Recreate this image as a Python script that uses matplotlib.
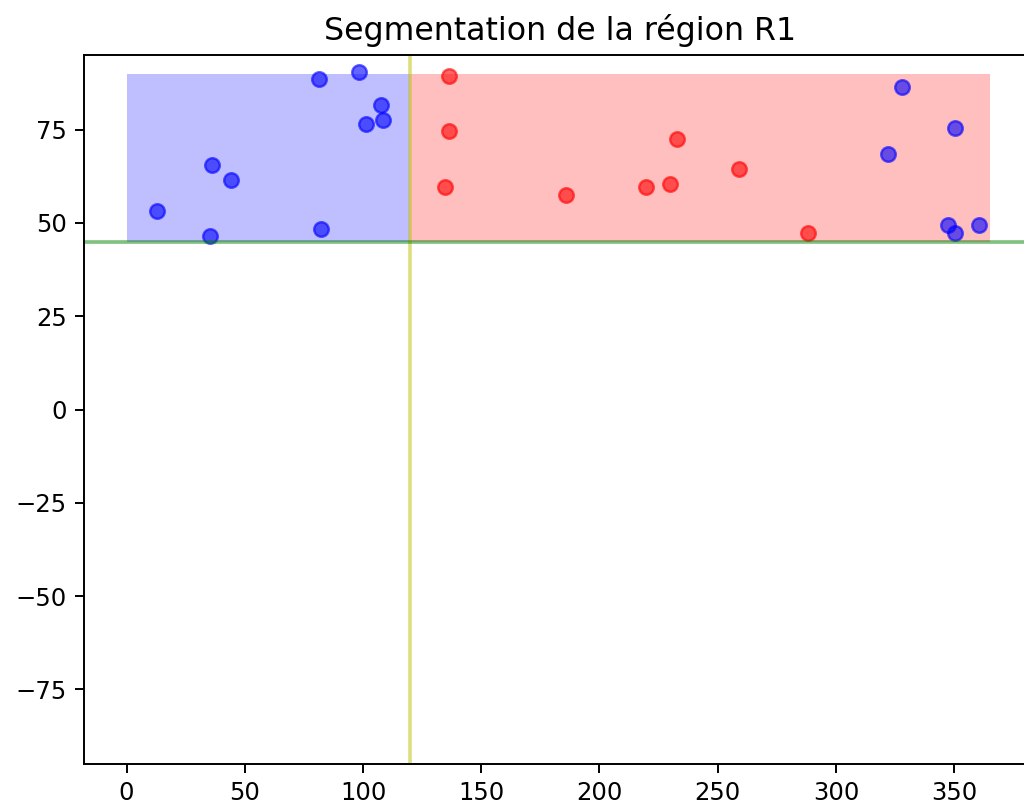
import matplotlib
matplotlib.use("Agg")
import matplotlib.pyplot as plt
from matplotlib.patches import Rectangle

# Data
blue_x = [13.0, 35.2, 36.2, 44.2, 81.3, 82.3, 98.3, 107.4, 101.1, 108.3,
          328.1, 322.2, 350.4, 347.3, 350.5, 360.4]
blue_y = [53.3, 46.4, 65.4, 61.4, 88.6, 48.4, 90.5, 81.6, 76.4, 77.5,
          86.4, 68.5, 75.4, 49.5, 47.4, 49.5]
red_x = [136.5, 136.5, 134.5, 185.7, 219.8, 229.8, 232.7, 259.1, 288.0]
red_y = [89.5, 74.5, 59.5, 57.5, 59.5, 60.5, 72.5, 64.4, 47.4]

split_x = 120
split_y = 45
x_max = 365
y_max = 90
title = "Segmentation de la région R1"

DPI = 175
fig = plt.figure(figsize=(1024 / DPI, 809 / DPI), dpi=DPI)
left_px, right_px = 84, 1036
ax = fig.add_axes([left_px / 1024, (809 - 764) / 809, (right_px - left_px) / 1024, (764 - 55) / 809])

ax.add_patch(Rectangle((0, split_y), split_x, y_max - split_y, color="blue", alpha=0.25, lw=0))
ax.add_patch(Rectangle((split_x, split_y), x_max - split_x, y_max - split_y, color="red", alpha=0.25, lw=0))
ax.axvline(split_x, color="y", alpha=0.5)
ax.axhline(split_y, color="g", alpha=0.5)
ax.scatter(blue_x, blue_y, color="blue", alpha=0.6)
ax.scatter(red_x, red_y, color="red", alpha=0.6)

ax.set_xlim(-18.0, 384.6)
ax.set_ylim(-95, 95)
ax.set_xticks([0, 50, 100, 150, 200, 250, 300, 350])
ax.set_yticks([-75, -50, -25, 0, 25, 50, 75])
ax.set_title(title, fontsize=13)

fig.savefig("out.png", dpi=DPI)
